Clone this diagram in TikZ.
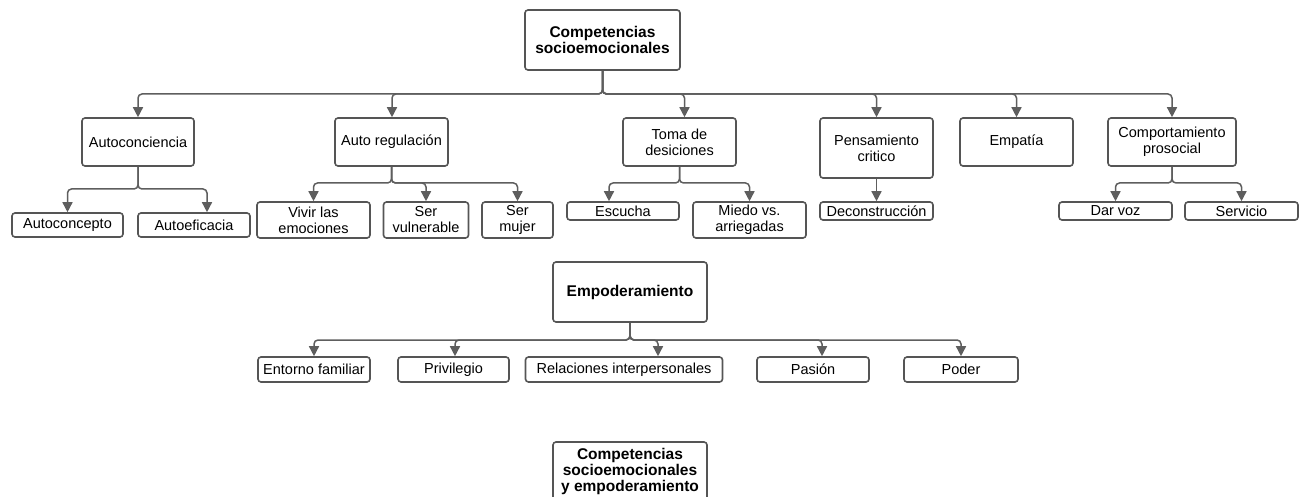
\documentclass[tikz,border=0pt]{standalone}
\usepackage{fontspec}
\setmainfont{Liberation Sans}
\usetikzlibrary{arrows.meta}
\definecolor{boxgray}{HTML}{555555}
\definecolor{linegray}{HTML}{5E5E5E}
\begin{document}
\begin{tikzpicture}[x=1pt,y=-1pt,
  box/.style={draw=boxgray, line width=1.6pt, rounded corners=3pt, fill=white,
    align=center, inner sep=0pt, font=\fontsize{14.5}{16}\selectfont},
  bbox/.style={box, font=\fontsize{15.5}{16}\selectfont\bfseries},
  conn/.style={draw=linegray, line width=1.5pt, rounded corners=4pt,
    -{Triangle[length=10pt,width=10pt]}, color=linegray}
]
\useasboundingbox[fill=white] (0,0) rectangle (1303,497);

% level 0
\node[bbox, minimum width=155pt, minimum height=60pt] (top) at (602.5,40) {Competencias\\socioemocionales};

% level 1
\node[box, minimum width=112pt, minimum height=48pt] (autoc) at (138,142) {Autoconciencia};
\node[box, minimum width=113pt, minimum height=48pt] (autor) at (391.5,142) {Auto regulación};
\node[box, minimum width=113pt, minimum height=48pt] (toma) at (679.5,142) {Toma de\\desiciones};
\node[box, minimum width=113pt, minimum height=60pt] (pens) at (876.5,148) {Pensamiento\\critico};
\node[box, minimum width=113pt, minimum height=48pt] (emp) at (1016.5,142) {Empatía};
\node[box, minimum width=128pt, minimum height=48pt] (comp) at (1172,142) {Comportamiento\\prosocial};

% level 2
\node[box, minimum width=111pt, minimum height=24pt] (acon) at (67.5,225) {Autoconcepto};
\node[box, minimum width=112pt, minimum height=24pt] (aefi) at (194,225) {Autoeficacia};
\node[box, minimum width=113pt, minimum height=36pt] (vivir) at (313.5,220) {Vivir las\\emociones};
\node[box, minimum width=85pt, minimum height=36pt] (vuln) at (426,220) {Ser\\vulnerable};
\node[box, minimum width=71pt, minimum height=36pt] (mujer) at (517.5,220) {Ser\\mujer};
\node[box, minimum width=112pt, minimum height=18pt] (escu) at (623,211) {Escucha};
\node[box, minimum width=113pt, minimum height=36pt] (miedo) at (749.5,220) {Miedo vs.\\arriegadas};
\node[box, minimum width=113pt, minimum height=18pt] (decon) at (876.5,211) {Deconstrucción};
\node[box, minimum width=113pt, minimum height=18pt] (dar) at (1115.5,211) {Dar voz};
\node[box, minimum width=113pt, minimum height=18pt] (serv) at (1241.5,211) {Servicio};

% empoderamiento
\node[bbox, minimum width=154pt, minimum height=60pt] (empo) at (630,292) {Empoderamiento};
\node[box, minimum width=112pt, minimum height=25pt] (ento) at (314,369.5) {Entorno familiar};
\node[box, minimum width=111pt, minimum height=25pt] (priv) at (453.5,369.5) {Privilegio};
\node[box, minimum width=197pt, minimum height=25pt] (rela) at (624,369.5) {Relaciones interpersonales};
\node[box, minimum width=112pt, minimum height=25pt] (pasi) at (813,369.5) {Pasión};
\node[box, minimum width=114pt, minimum height=25pt] (pode) at (961,369.5) {Poder};

% bottom
\node[bbox, minimum width=154pt, minimum height=58pt] (fin) at (630,471) {Competencias\\socioemocionales\\y empoderamiento};

% bus levels
\coordinate (b0) at (0,94);
\coordinate (b1) at (0,189);
\coordinate (b2) at (0,183);
\coordinate (b3) at (0,340);

% top connectors
\draw[conn] (top.south) |- (autoc.north |- b0) -- (autoc.north);
\draw[conn] (top.south) |- ([xshift=0.5pt]autor.north |- b0) -- ([xshift=0.5pt]autor.north);
\draw[conn] (top.south) |- ([xshift=5pt]toma.north |- b0) -- ([xshift=5pt]toma.north);
\draw[conn] (top.south) |- (pens.north |- b0) -- (pens.north);
\draw[conn] (top.south) |- (emp.north |- b0) -- (emp.north);
\draw[conn] (top.south) |- (comp.north |- b0) -- (comp.north);

% autoconciencia
\draw[conn] (autoc.south) |- (acon.north |- b1) -- (acon.north);
\draw[conn] (autoc.south) |- ([xshift=13pt]aefi.north |- b1) -- ([xshift=13pt]aefi.north);

% auto regulacion
\draw[conn] (autor.south) |- (vivir.north |- b2) -- (vivir.north);
\draw[conn] (autor.south) |- (vuln.north |- b2) -- (vuln.north);
\draw[conn] (autor.south) |- (mujer.north |- b2) -- (mujer.north);

% toma
\draw[conn] (toma.south) |- ([xshift=-14pt]escu.north |- b2) -- ([xshift=-14pt]escu.north);
\draw[conn] (toma.south) |- (miedo.north |- b2) -- (miedo.north);

% pensamiento
\draw[conn] (pens.south) -- (decon.north);

% comportamiento
\draw[conn] (comp.south) |- (dar.north |- b2) -- (dar.north);
\draw[conn] (comp.south) |- (serv.north |- b2) -- (serv.north);

% empoderamiento
\draw[conn] (empo.south) |- (ento.north |- b3) -- (ento.north);
\draw[conn] (empo.south) |- ([xshift=1.5pt]priv.north |- b3) -- ([xshift=1.5pt]priv.north);
\draw[conn] (empo.south) |- ([xshift=34pt]rela.north |- b3) -- ([xshift=34pt]rela.north);
\draw[conn] (empo.south) |- ([xshift=9pt]pasi.north |- b3) -- ([xshift=9pt]pasi.north);
\draw[conn] (empo.south) |- (pode.north |- b3) -- (pode.north);
\end{tikzpicture}
\end{document}
